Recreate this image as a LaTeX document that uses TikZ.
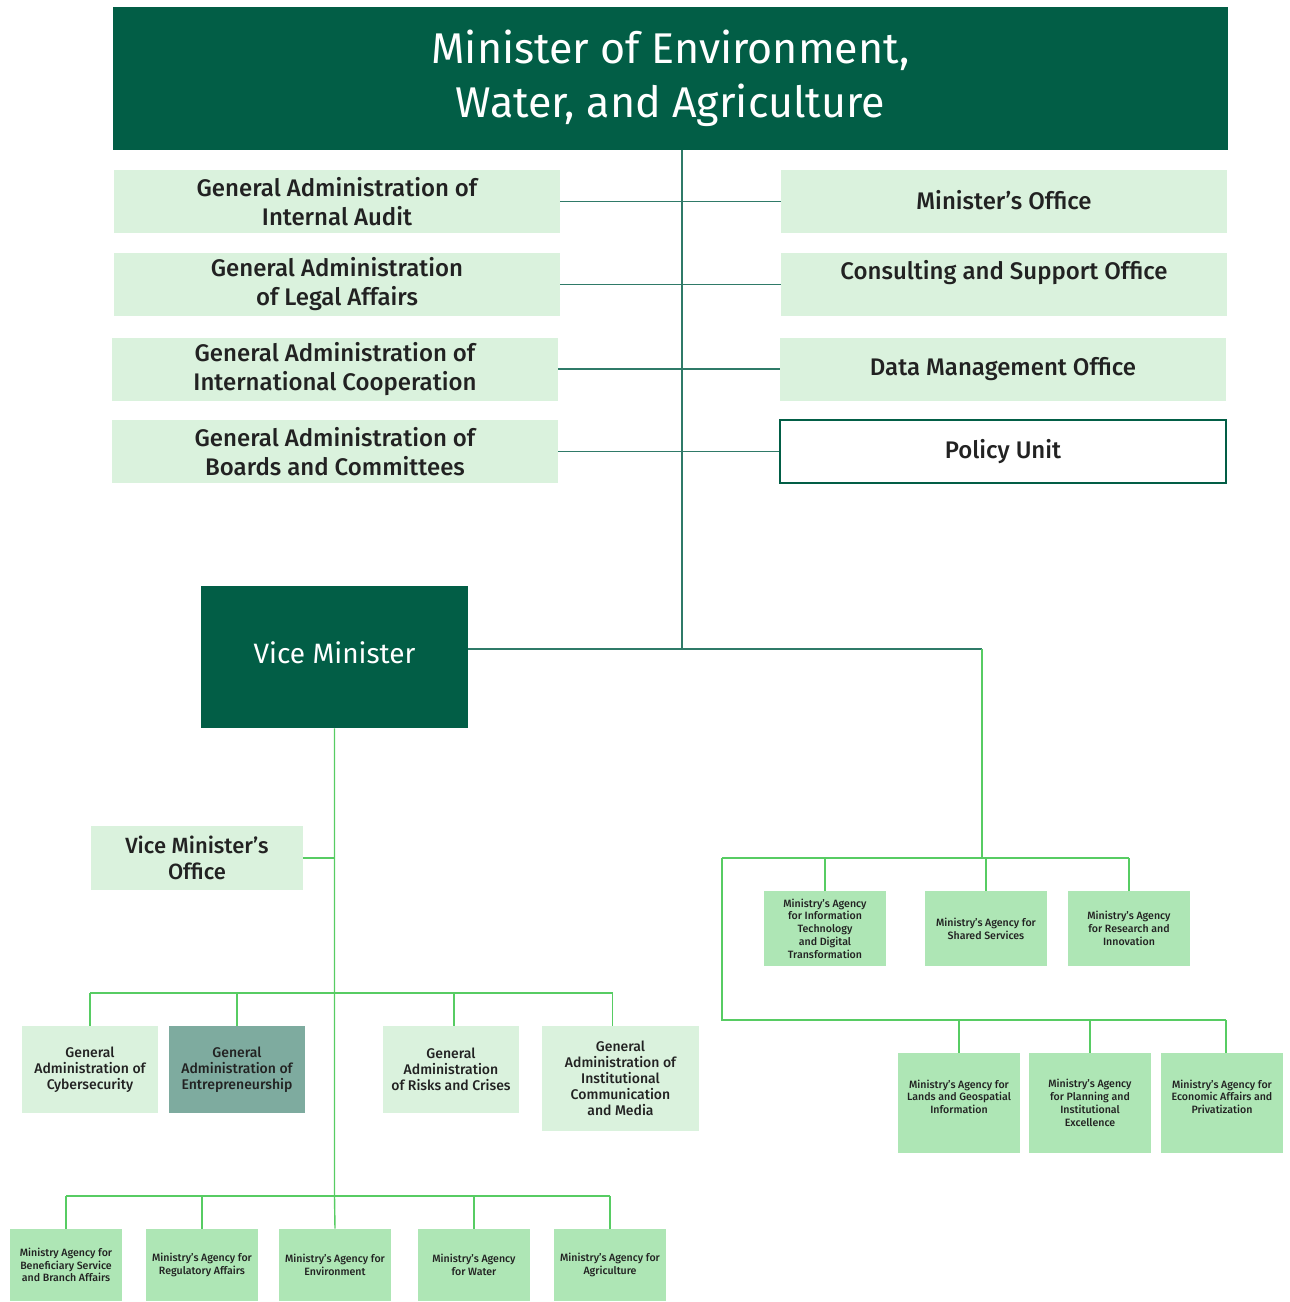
\documentclass[tikz,border=0pt]{standalone}
\usepackage{fontspec}
\setmainfont{Fira Sans}
\newfontfamily\medfont{Fira Sans Medium}
\usepackage[table]{xcolor}
\usepackage{tikz}

\definecolor{mingreen}{HTML}{025E46}
\definecolor{mintfill}{HTML}{DAF2DD}
\definecolor{agencyfill}{HTML}{AEE6B5}
\definecolor{sagefill}{HTML}{7EAB9F}
\definecolor{trunkline}{HTML}{2F7A68}
\definecolor{branchline}{HTML}{57CC63}
\definecolor{boxtext}{HTML}{222222}

\tikzset{
  headbox/.style={fill=mingreen, text=white, align=center, inner sep=0pt},
  officebox/.style={fill=mintfill, text=boxtext, align=center, inner sep=0pt,
    minimum width=223pt, minimum height=31.5pt,
    font=\medfont\fontsize{12}{14.5}\selectfont},
  gabox/.style={fill=mintfill, text=boxtext, align=center, inner sep=0pt,
    minimum width=68pt, minimum height=43.5pt,
    font=\medfont\fontsize{7}{8}\selectfont},
  agencybox/.style={fill=agencyfill, text=boxtext, align=center, inner sep=0pt,
    minimum width=61pt, font=\medfont\fontsize{5.3}{6.4}\selectfont},
  trunk/.style={draw=trunkline, line width=0.7pt},
  branch/.style={draw=branchline, line width=0.7pt},
}

\begin{document}
\begin{tikzpicture}[x=0.5pt, y=-0.5pt]
        \useasboundingbox (0,0) rectangle (1290,1302);

        % minister
        \node[headbox, minimum width=557.5pt, minimum height=71.5pt,
              font=\fontsize{21.5}{27}\selectfont]
              (minister) at (670.5,78.5) {Minister of Environment,\\Water, and Agriculture};

        % offices left / right of the trunk
        \node[officebox] (audit)   at (337,201.5)  {General Administration of\\Internal Audit};
        \node[officebox] (legal)   at (337,284.5)  {General Administration\\of Legal Affairs};
        \node[officebox] (intl)    at (335,369)    {General Administration of\\International Cooperation};
        \node[officebox] (boards)  at (335,451.5)  {General Administration of\\Boards and Committees};
        \node[officebox] (mOffice) at (1004,201.5) {\raisebox{2pt}{Minister’s Office}};
        \node[officebox] (consult) at (1004,284.5) {Consulting and Support Office\\\mbox{}};
        \node[officebox] (data)    at (1003,369)   {Data Management Office};
        \node[officebox, fill=white, draw=mingreen, line width=0.6pt]
                         (policy)  at (1003,451.5) {Policy Unit};

        \coordinate (jVM) at (682,649);                              % trunk meets vice minister line
        \coordinate (jR)  at (982,649);                              % corner to the agencies
        \draw[trunk] (minister.south -| jVM) -- (jVM);               %
        \draw[trunk] (audit.east)  -- (mOffice.west);                %
        \draw[trunk] (legal.east)  -- (consult.west);                %
        \draw[trunk] (intl.east)   -- (data.west);                   %
        \draw[trunk] (boards.east) -- (policy.west);                 %

        % vice minister
        \node[headbox, minimum width=133.5pt, minimum height=71pt,
              font=\fontsize{14}{16}\selectfont]
              (vm) at (334.5,657) {\raisebox{4.5pt}{Vice Minister}};
        \draw[trunk] (vm.east |- jVM) -- (jR);                       %

        % agencies, right side
        \node[agencybox, minimum height=37.5pt] (itAgency)     at (825,928.5)  {Ministry’s Agency\\for Information\\Technology\\and Digital\\Transformation};
        \node[agencybox, minimum height=37.5pt] (sharedAgency) at (986,928.5)  {Ministry’s Agency for\\Shared Services};
        \node[agencybox, minimum height=37.5pt] (researchAgency) at (1129,928.5) {Ministry’s Agency\\for Research and\\Innovation};
        \node[agencybox, minimum height=50pt] (landsAgency)    at (959,1103)  {Ministry’s Agency for\\Lands and Geospatial\\Information\\\mbox{}};
        \node[agencybox, minimum height=50pt] (planAgency)     at (1090,1103) {Ministry’s Agency\\for Planning and\\Institutional\\Excellence};
        \node[agencybox, minimum height=50pt] (econAgency)     at (1222,1103) {Ministry’s Agency for\\Economic Affairs and\\Privatization\\\mbox{}};

        \coordinate (busA) at (722,858);                             %
        \coordinate (busB) at (722,1020);                            %
        \draw[branch] (jR) -- (jR |- busA);                          %
        \draw[branch] (busA) -- (researchAgency.north |- busA);      %
        \draw[branch] (itAgency.north)       -- (itAgency.north |- busA);
        \draw[branch] (sharedAgency.north)   -- (sharedAgency.north |- busA);
        \draw[branch] (researchAgency.north) -- (researchAgency.north |- busA);
        \draw[branch] (busA) -- (busB) -- ([xshift=2pt]econAgency.north |- busB);%
        \draw[branch] (landsAgency.north) -- (landsAgency.north |- busB);
        \draw[branch] (planAgency.north)  -- (planAgency.north |- busB);
        \draw[branch] ([xshift=2pt]econAgency.north) -- ([xshift=2pt]econAgency.north |- busB);

        % vice minister side
        \node[fill=mintfill, text=boxtext, align=center, inner sep=0pt,
              minimum width=106pt, minimum height=32pt,
              font=\medfont\fontsize{11}{13}\selectfont]
              (vmOffice) at (197,858) {Vice Minister’s\\Office};

        \node[gabox] (cyber)   at (90,1069.5)  {General\\Administration of\\Cybersecurity};
        \node[gabox, fill=sagefill] (entre) at (237,1069.5) {General\\Administration of\\Entrepreneurship};
        \node[gabox] (risks)   at (451,1069.5) {General\\Administration\\of Risks and Crises};
        \node[gabox, minimum width=78.5pt, minimum height=52.5pt]
                     (media)   at (620.5,1078.5) {General\\Administration of\\Institutional\\Communication\\and Media};

        \node[agencybox, minimum width=56pt, minimum height=36pt] (benefAgency) at (66,1265)   {Ministry Agency for\\Beneficiary Service\\and Branch Affairs};
        \node[agencybox, minimum width=56pt, minimum height=36pt] (regAgency)   at (202,1265)  {Ministry’s Agency for\\Regulatory Affairs};
        \node[agencybox, minimum width=56pt, minimum height=36pt] (envAgency)   at (335,1265)  {Ministry’s Agency for\\Environment};
        \node[agencybox, minimum width=56pt, minimum height=36pt] (waterAgency) at (474,1265)  {Ministry’s Agency\\for Water};
        \node[agencybox, minimum width=56pt, minimum height=36pt] (agriAgency)  at (610,1265)  {Ministry’s Agency for\\Agriculture};

        \coordinate (busG)   at (335,993);                           %
        \coordinate (busBot) at (335,1196);                          %
        \draw[branch] (vm.south) -- (vm.south |- busBot) -- (envAgency.north); %
        \draw[branch] (vmOffice.east) -- (vmOffice.east -| vm.south);%
        \draw[branch] (cyber.north |- busG) -- ([xshift=-4pt]media.north |- busG);%
        \draw[branch] (cyber.north) -- (cyber.north |- busG);        %
        \draw[branch] (entre.north) -- (entre.north |- busG);        %
        \draw[branch] ([xshift=1.5pt]risks.north) -- ([xshift=1.5pt]risks.north |- busG);
        \draw[branch] ([xshift=-4pt]media.north) -- ([xshift=-4pt]media.north |- busG);
        \draw[branch] (benefAgency.north |- busBot) -- (agriAgency.north |- busBot);
        \draw[branch] (benefAgency.north) -- (benefAgency.north |- busBot);
        \draw[branch] (regAgency.north)   -- (regAgency.north |- busBot);
        \draw[branch] (waterAgency.north) -- (waterAgency.north |- busBot);
        \draw[branch] (agriAgency.north)  -- (agriAgency.north |- busBot);
\end{tikzpicture}
\end{document}
